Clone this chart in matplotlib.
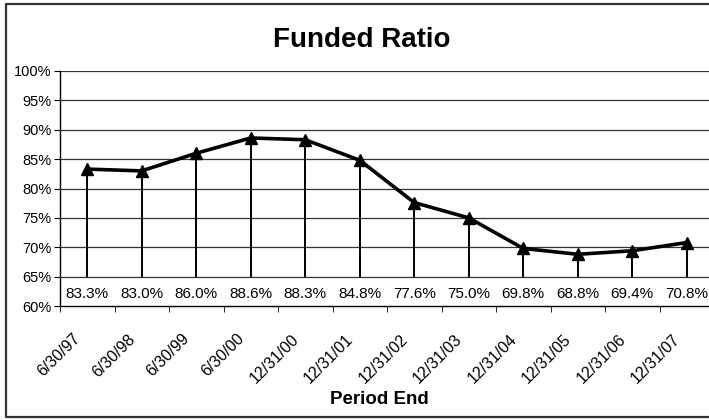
import numpy as np
import matplotlib
matplotlib.use('Agg')
import matplotlib.pyplot as plt
from matplotlib.lines import Line2D
from matplotlib.transforms import ScaledTranslation

periods = ['6/30/97', '6/30/98', '6/30/99', '6/30/00', '12/31/00', '12/31/01',
           '12/31/02', '12/31/03', '12/31/04', '12/31/05', '12/31/06', '12/31/07']
funded = [83.3, 83.0, 86.0, 88.6, 88.3, 84.8, 77.6, 75.0, 69.8, 68.8, 69.4, 70.8]
yticks = [60, 65, 70, 75, 80, 85, 90, 95, 100]
stem_base = 65
label_y = 62

plt.rcParams['font.family'] = ['Liberation Sans', 'DejaVu Sans']

fig = plt.figure(figsize=(7.09, 4.2), dpi=100)
W, H = 709, 420
# plot area runs past the right edge, as in the reference
ax = fig.add_axes([60 / W, 114 / H, 654 / W, 235 / H])

x = np.arange(len(periods))

for yv in yticks[1:]:
    ax.axhline(yv, color='#333333', lw=0.9, zorder=1)

ax.vlines(x, stem_base, funded, color='black', lw=1.4, zorder=2)
ax.plot(x, funded, color='black', lw=2.6, marker='^', markersize=8.5,
        markerfacecolor='black', zorder=3)

for xi, v in zip(x, funded):
    ax.text(xi, label_y, f'{v:.1f}%', ha='center', va='center', fontsize=11)

ax.set_xlim(-0.5, len(periods) - 0.5)
ax.set_ylim(60, 100)
ax.set_yticks(yticks)
ax.set_yticklabels([f'{v}%' for v in yticks], fontsize=10.5)

ax.set_xticks(x)
ax.set_xticklabels(periods, fontsize=11.5, rotation=45, ha='right', va='center',
                   rotation_mode='anchor')
ax.set_xticks(np.arange(len(periods)) - 0.5, minor=True)
ax.tick_params(axis='x', which='major', length=0, pad=22)
ax.tick_params(axis='x', which='minor', length=4, direction='out', color='black')
ax.tick_params(axis='y', length=4, direction='out', pad=2)
for lab in ax.get_xticklabels():
    lab.set_transform(lab.get_transform() + ScaledTranslation(-0.09, 0, fig.dpi_scale_trans))

for s in ['top', 'right']:
    ax.spines[s].set_visible(False)
ax.spines['left'].set_linewidth(1.0)
ax.spines['bottom'].set_linewidth(1.0)

fig.text(362 / W, 1 - 40 / H, 'Funded Ratio', ha='center', va='center',
         fontsize=20, fontweight='bold')
fig.text(379 / W, 1 - 400 / H, 'Period End', ha='center', va='center',
         fontsize=13.5, fontweight='bold')

# outer chart border (right side is cut off)
bx0, by0, by1 = 6 / W, 1 - 417 / H, 1 - 4 / H
fig.add_artist(Line2D([1.01, bx0, bx0, 1.01], [by1, by1, by0, by0],
                      transform=fig.transFigure, color='#333333', lw=1.6))

fig.savefig('out.png', dpi=100)
